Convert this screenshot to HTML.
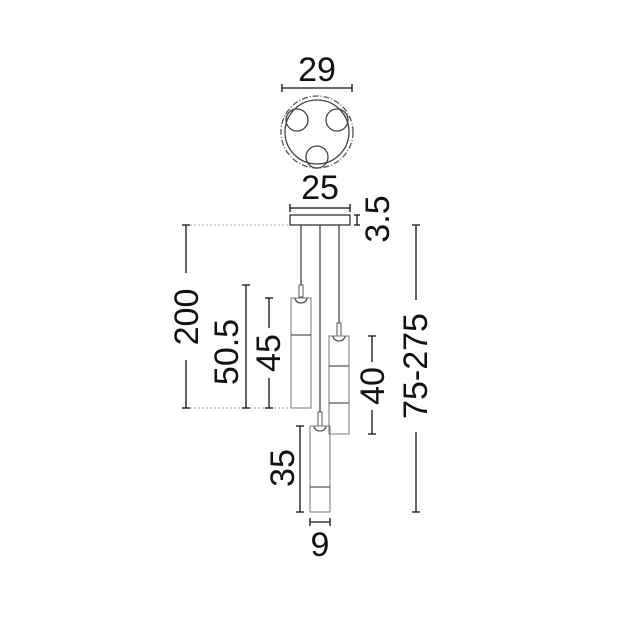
<!DOCTYPE html>
<html><head><style>html,body{margin:0;padding:0;background:#fff}svg{display:block}</style></head>
<body>
<svg width="621" height="621" viewBox="0 0 621 621" xmlns="http://www.w3.org/2000/svg" font-family="Liberation Sans, sans-serif" font-size="34" fill="#111">
<g stroke="#111" stroke-width="1.3" fill="none">
<!-- top view -->
<line x1="282" y1="88" x2="352" y2="88"/><line x1="282" y1="84" x2="282" y2="92"/><line x1="352" y1="84" x2="352" y2="92"/>
<circle cx="317" cy="132" r="36" stroke-dasharray="6 2 1 2" stroke="#555"/>
<circle cx="317" cy="132" r="32" stroke="#444"/>
<circle cx="297" cy="120" r="11" stroke="#444"/>
<circle cx="337" cy="120" r="11" stroke="#444"/>
<circle cx="317" cy="157" r="11" stroke="#444"/>
<!-- 25 -->
<line x1="290" y1="208" x2="350" y2="208"/><line x1="290" y1="204" x2="290" y2="212"/><line x1="350" y1="204" x2="350" y2="212"/>
<!-- canopy -->
<rect x="290" y="215" width="60" height="10" stroke="#333"/>
<line x1="357" y1="215" x2="357" y2="225"/><line x1="354" y1="215" x2="360" y2="215"/><line x1="354" y1="225" x2="360" y2="225"/>
<!-- cords -->
<line x1="301" y1="225" x2="301" y2="285" stroke="#444"/>
<line x1="320" y1="225" x2="320" y2="412" stroke="#444"/>
<line x1="339" y1="225" x2="339" y2="323" stroke="#444"/>
<!-- pendant 1 -->
<rect x="299" y="285" width="4" height="12" stroke="#555" stroke-width="1"/>
<rect x="291" y="298" width="20" height="110" stroke="#777" stroke-width="1"/>
<line x1="291" y1="335" x2="311" y2="335" stroke="#555"/>
<path d="M295 298 a6 5 0 0 0 12 0" stroke="#555"/>
<!-- pendant 2 -->
<rect x="337" y="323" width="4" height="13" stroke="#555" stroke-width="1"/>
<rect x="329" y="336" width="20" height="98" stroke="#777" stroke-width="1"/>
<line x1="329" y1="366" x2="349" y2="366" stroke="#555"/>
<line x1="329" y1="403" x2="349" y2="403" stroke="#555"/>
<path d="M333 336 a6 5 0 0 0 12 0" stroke="#555"/>
<!-- pendant 3 -->
<rect x="318" y="412" width="4" height="14" stroke="#555" stroke-width="1"/>
<rect x="310" y="426" width="20" height="86" stroke="#777" stroke-width="1"/>
<line x1="310" y1="487" x2="330" y2="487" stroke="#555"/>
<path d="M314 426 a6 5 0 0 0 12 0" stroke="#555"/>
<!-- dotted guides -->
<line x1="186" y1="225" x2="290" y2="225" stroke="#aaa" stroke-width="1" stroke-dasharray="2 2"/>
<line x1="186" y1="408" x2="291" y2="408" stroke="#aaa" stroke-width="1" stroke-dasharray="2 2"/>
<!-- 200 -->
<line x1="186" y1="225" x2="186" y2="273"/><line x1="186" y1="360" x2="186" y2="408"/>
<line x1="182" y1="225" x2="190" y2="225"/><line x1="182" y1="408" x2="190" y2="408"/>
<!-- 50.5 -->
<line x1="246" y1="285" x2="246" y2="408"/><line x1="242" y1="285" x2="250" y2="285"/><line x1="242" y1="408" x2="250" y2="408"/>
<!-- 45 -->
<line x1="269" y1="298" x2="269" y2="328"/><line x1="269" y1="378" x2="269" y2="408"/>
<line x1="265" y1="298" x2="273" y2="298"/><line x1="265" y1="408" x2="273" y2="408"/>
<!-- 40 -->
<line x1="372" y1="336" x2="372" y2="362"/><line x1="372" y1="410" x2="372" y2="434"/>
<line x1="368" y1="336" x2="376" y2="336"/><line x1="368" y1="434" x2="376" y2="434"/>
<!-- 75-275 -->
<line x1="416" y1="225" x2="416" y2="300"/><line x1="416" y1="432" x2="416" y2="512"/>
<line x1="412" y1="225" x2="420" y2="225"/><line x1="412" y1="512" x2="420" y2="512"/>
<!-- 35 -->
<line x1="300" y1="426" x2="300" y2="512"/><line x1="296" y1="426" x2="304" y2="426"/><line x1="296" y1="512" x2="304" y2="512"/>
<!-- 9 -->
<line x1="310" y1="522" x2="330" y2="522"/><line x1="310" y1="518" x2="310" y2="526"/><line x1="330" y1="518" x2="330" y2="526"/>
</g>
<g text-anchor="middle" dominant-baseline="central">
<text x="317" y="70">29</text>
<text x="320" y="188">25</text>
<text x="320" y="545">9</text>
<text transform="translate(378,219) rotate(-90)">3.5</text>
<text transform="translate(187,317) rotate(-90)">200</text>
<text transform="translate(227,352) rotate(-90)">50.5</text>
<text transform="translate(269,353) rotate(-90)">45</text>
<text transform="translate(373,386) rotate(-90)">40</text>
<text transform="translate(283,468) rotate(-90)">35</text>
<text transform="translate(416,366) rotate(-90)">75-275</text>
</g>
</svg>
</body></html>
